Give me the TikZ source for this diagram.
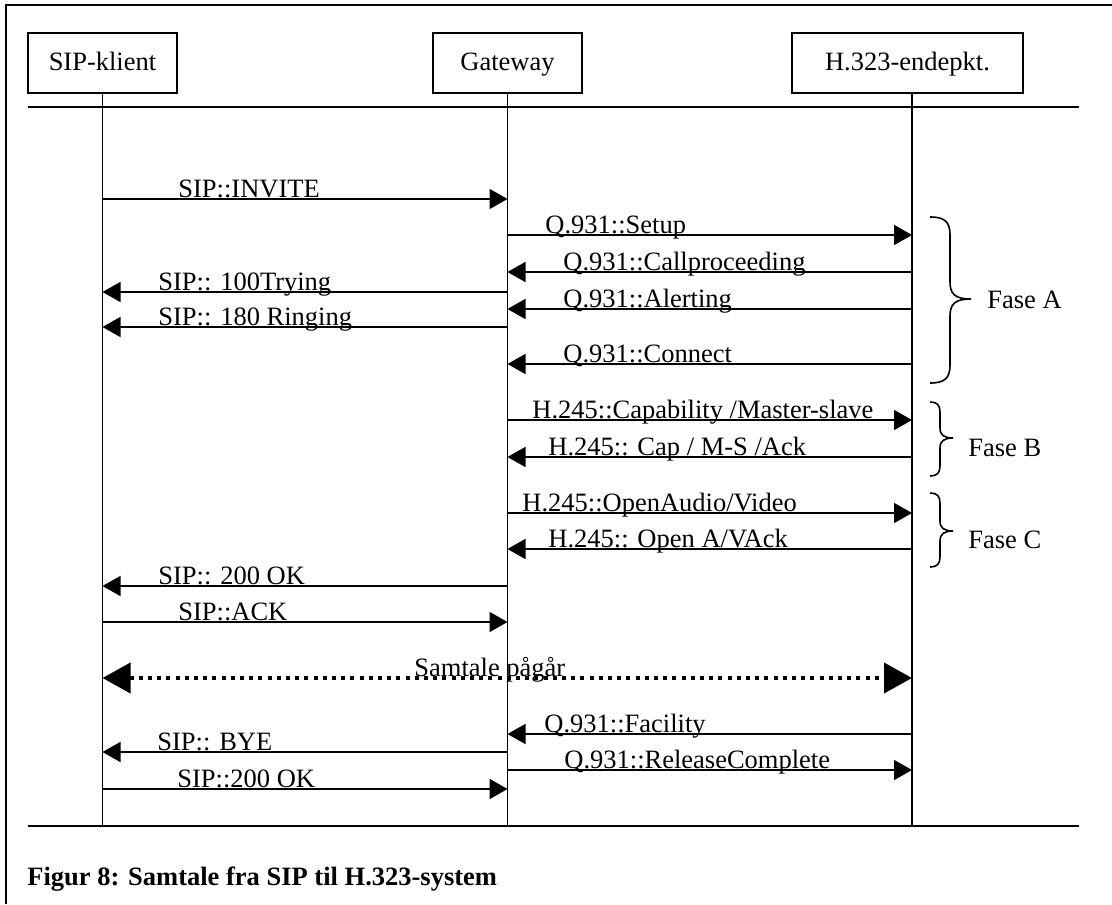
\documentclass[tikz,border=0pt]{standalone}
\usepackage{fontspec}
\setmainfont{Liberation Serif}
\usetikzlibrary{arrows.meta, positioning, calc}

\begin{document}
\begin{tikzpicture}[x=0.5pt, y=-0.5pt,
      every node/.style={font=\fontsize{13.25}{15}\selectfont},
      actor/.style={draw, line width=1pt, minimum height=30pt, inner sep=0pt,
                    text height=9pt, text depth=1pt},
      life/.style={line width=0.7pt},
      msg/.style={line width=0.8pt, -{Triangle[length=9pt,width=10pt]}},
      talk/.style={line width=2pt, dash pattern=on 2pt off 2.6pt,
                   {Triangle[length=14pt,width=15pt]}-{Triangle[length=14pt,width=15pt]}},
      lbl/.style={anchor=base west, inner sep=0pt},
      brace/.style={line width=0.8pt},
      >=Stealth]
    \useasboundingbox (0,0) rectangle (1112,904);
    \draw[line width=1pt] (6,904) -- (6,5) -- (1112,5);

    % the three parties
    \foreach \n/\x/\w/\t in {sip/102.5/74.5pt/SIP-klient, gw/507.5/74.5pt/Gateway,
                             h323/907.5/115.5pt/H.323-endepkt.} {
      \node[actor, minimum width=\w] (\n) at (\x,63) {\t};
    }
    \coordinate (top) at (0,107);
    \coordinate (bot) at (0,826);
    \coordinate (hl) at (912,93);
    \draw[line width=1.3pt] (28,107) -- (1079,107);
    \draw[line width=1.3pt] (28,826) -- (1079,826);
    \draw[life] (sip.south) -- (sip.south |- bot);
    \draw[life] (gw.south) -- (gw.south |- bot);
    \draw[life] (hl) -- (hl |- bot);

    % messages
    \coordinate (r1) at (0,199);   \coordinate (r2) at (0,235);
    \coordinate (r3) at (0,272);   \coordinate (r4) at (0,292);
    \coordinate (r5) at (0,309);   \coordinate (r6) at (0,327);
    \coordinate (r7) at (0,364);   \coordinate (r8) at (0,420);
    \coordinate (r9) at (0,457);   \coordinate (r10) at (0,513);
    \coordinate (r11) at (0,549);  \coordinate (r12) at (0,586);
    \coordinate (r13) at (0,622);  \coordinate (r14) at (0,678);
    \coordinate (r15) at (0,734);  \coordinate (r16) at (0,752);
    \coordinate (r17) at (0,770);  \coordinate (r18) at (0,789);

    \draw[msg] (sip |- r1) -- (gw |- r1);
    \node[lbl] (m1) at (178,197) {SIP::INVITE};
    \draw[msg] (gw |- r2) -- (hl |- r2);
    \node[lbl] (m2) at (545,233) {Q.931::Setup};
    \draw[msg] (hl |- r3) -- (gw |- r3);
    \node[lbl] (m3) at (563,270) {Q.931::Callproceeding};
    \draw[msg] (gw |- r4) -- (sip.south |- r4);
    \node[lbl] (m4) at (158,290) {SIP:: 100Trying};
    \draw[msg] (hl |- r5) -- (gw |- r5);
    \node[lbl] (m5) at (563,307) {Q.931::Alerting};
    \draw[msg] (gw |- r6) -- (sip.south |- r6);
    \node[lbl] (m6) at (158,325) {SIP:: 180 Ringing};
    \draw[msg] (hl |- r7) -- (gw |- r7);
    \node[lbl] (m7) at (563,362) {Q.931::Connect};
    \draw[msg] (gw |- r8) -- (hl |- r8);
    \node[lbl] (m8) at (532,418) {H.245::Capability /Master-slave};
    \draw[msg] (hl |- r9) -- (gw |- r9);
    \node[lbl] (m9) at (548,455) {H.245:: Cap / M-S /Ack};
    \draw[msg] (gw |- r10) -- (hl |- r10);
    \node[lbl] (m10) at (522,511) {H.245::OpenAudio/Video};
    \draw[msg] (hl |- r11) -- (gw |- r11);
    \node[lbl] (m11) at (548,547) {H.245:: Open A/VAck};
    \draw[msg] (gw |- r12) -- (sip.south |- r12);
    \node[lbl] (m12) at (158,584) {SIP:: 200 OK};
    \draw[msg] (sip.south |- r13) -- (gw |- r13);
    \node[lbl] (m13) at (178,620) {SIP::ACK};
    \draw[talk] (sip.south |- r14) -- (hl |- r14);
    \node[lbl] (m14) at (414,676) {Samtale pågår};
    \draw[msg] (hl |- r15) -- (gw |- r15);
    \node[lbl] (m15) at (544,732) {Q.931::Facility};
    \draw[msg] (gw |- r16) -- (sip.south |- r16);
    \node[lbl] (m16) at (157,750) {SIP:: BYE};
    \draw[msg] (gw |- r17) -- (hl |- r17);
    \node[lbl] (m17) at (564,768) {Q.931::ReleaseComplete};
    \draw[msg] (sip.south |- r18) -- (gw |- r18);
    \node[lbl] (m18) at (177,787) {SIP::200 OK};

    % phases
    \draw[brace] (930,217) .. controls (945,217) and (950,222) .. (950,235)
      -- (950,282) .. controls (950,294) and (955,299) .. (971,299)
      .. controls (955,299) and (950,304) .. (950,316)
      -- (950,365) .. controls (950,378) and (945,383) .. (930,383);
    \node[anchor=west, inner sep=0pt] (fa) at (987,300) {Fase A};
    \draw[brace] (930,402) .. controls (937,402) and (940,405) .. (940,412)
      -- (940,428) .. controls (940,435) and (944,438) .. (953,438)
      .. controls (944,438) and (940,441) .. (940,448)
      -- (940,466) .. controls (940,473) and (937,476) .. (930,476);
    \node[anchor=west, inner sep=0pt] (fb) at (968,448) {Fase B};
    \draw[brace] (930,493) .. controls (937,493) and (940,496) .. (940,503)
      -- (940,521) .. controls (940,528) and (944,531) .. (953,531)
      .. controls (944,531) and (940,534) .. (940,541)
      -- (940,557) .. controls (940,564) and (937,567) .. (930,567);
    \node[anchor=west, inner sep=0pt] (fc) at (968,540) {Fase C};

    \node[anchor=base west, inner sep=0pt, font=\fontsize{13.25}{15}\selectfont\bfseries]
          (cap) at (27,885) {Figur 8: Samtale fra SIP til H.323-system};
  \end{tikzpicture}
\end{document}
